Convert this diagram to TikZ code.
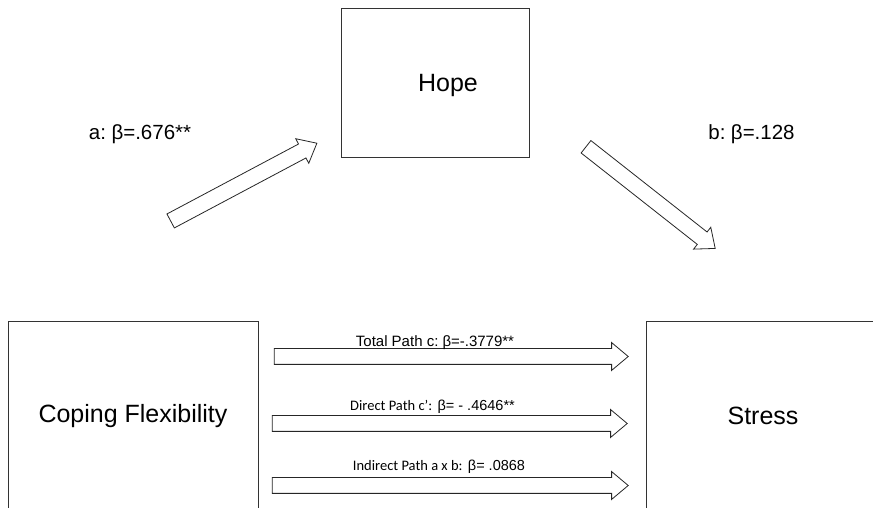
\documentclass[tikz,border=0pt]{standalone}
\usepackage{fontspec}
\setmainfont{Liberation Sans}
\newfontfamily\calib{Carlito}
\usetikzlibrary{shapes.arrows}
\begin{document}
\begin{tikzpicture}[x=1pt,y=1pt,
  box/.style={draw=black!80, line width=0.9pt, inner sep=0pt},
  txt/.style={inner sep=0pt, anchor=base},
  big/.style={txt, font=\fontsize{25}{30}\selectfont},
  coef/.style={txt, font=\fontsize{20.5}{24}\selectfont},
  path lbl/.style={txt, font=\fontsize{15}{18}\selectfont},
  fat/.style={single arrow, draw=black!85, line width=0.8pt, fill=white,
    inner xsep=0pt, inner ysep=7.5pt, single arrow head extend=6pt,
    single arrow tip angle=80}]
\useasboundingbox (0,0) rectangle (873,508);

% variable boxes (the lower two run off the page)
\node[box, minimum width=188pt, minimum height=149pt] (hope) at (435,425.5) {};
\node[box, minimum width=250pt, minimum height=190pt] (cope) at (133,92) {};
\node[box, minimum width=234pt, minimum height=190pt] (stress) at (763,92) {};

\node[big] (hopeT) at (448,416) {Hope};
\node[big] (copeT) at (133,85) {Coping Flexibility};
\node[big] (stressT) at (763,83) {Stress};

% mediation paths a and b
\node[fat, minimum height=165.6pt, rotate=28] (pa) at (239.6,323.7) {};
\node[fat, minimum height=164.4pt, rotate=-38.2] (pb) at (646.9,313.3) {};
\node[coef] (aT) at (140,368.7) {a:\hspace{-0.1em} β=.676**};
\node[coef] (bT) at (751.5,368.7) {b:\hspace{-0.1em} β=.128};

% total, direct and indirect effects
\node[fat, minimum height=354pt] (pc) at (446.5,151.5) {};
\node[fat, minimum height=355pt] (pd) at (445,84.5) {};
\node[fat, minimum height=356pt] (pi) at (445.5,22.5) {};

\node[path lbl] (cT) at (435,161.3) {Total Path c:\hspace{-0.1em} β=-.3779**};
\node[path lbl, font=\fontsize{14.5}{17}\selectfont] (dT) at (432.5,97)
  {{\calib Direct Path c’:} β= - .4646**};
\node[path lbl, font=\fontsize{14.5}{17}\selectfont] (iT) at (439,37)
  {{\calib Indirect Path a x b:} β= .0868};
\end{tikzpicture}
\end{document}
